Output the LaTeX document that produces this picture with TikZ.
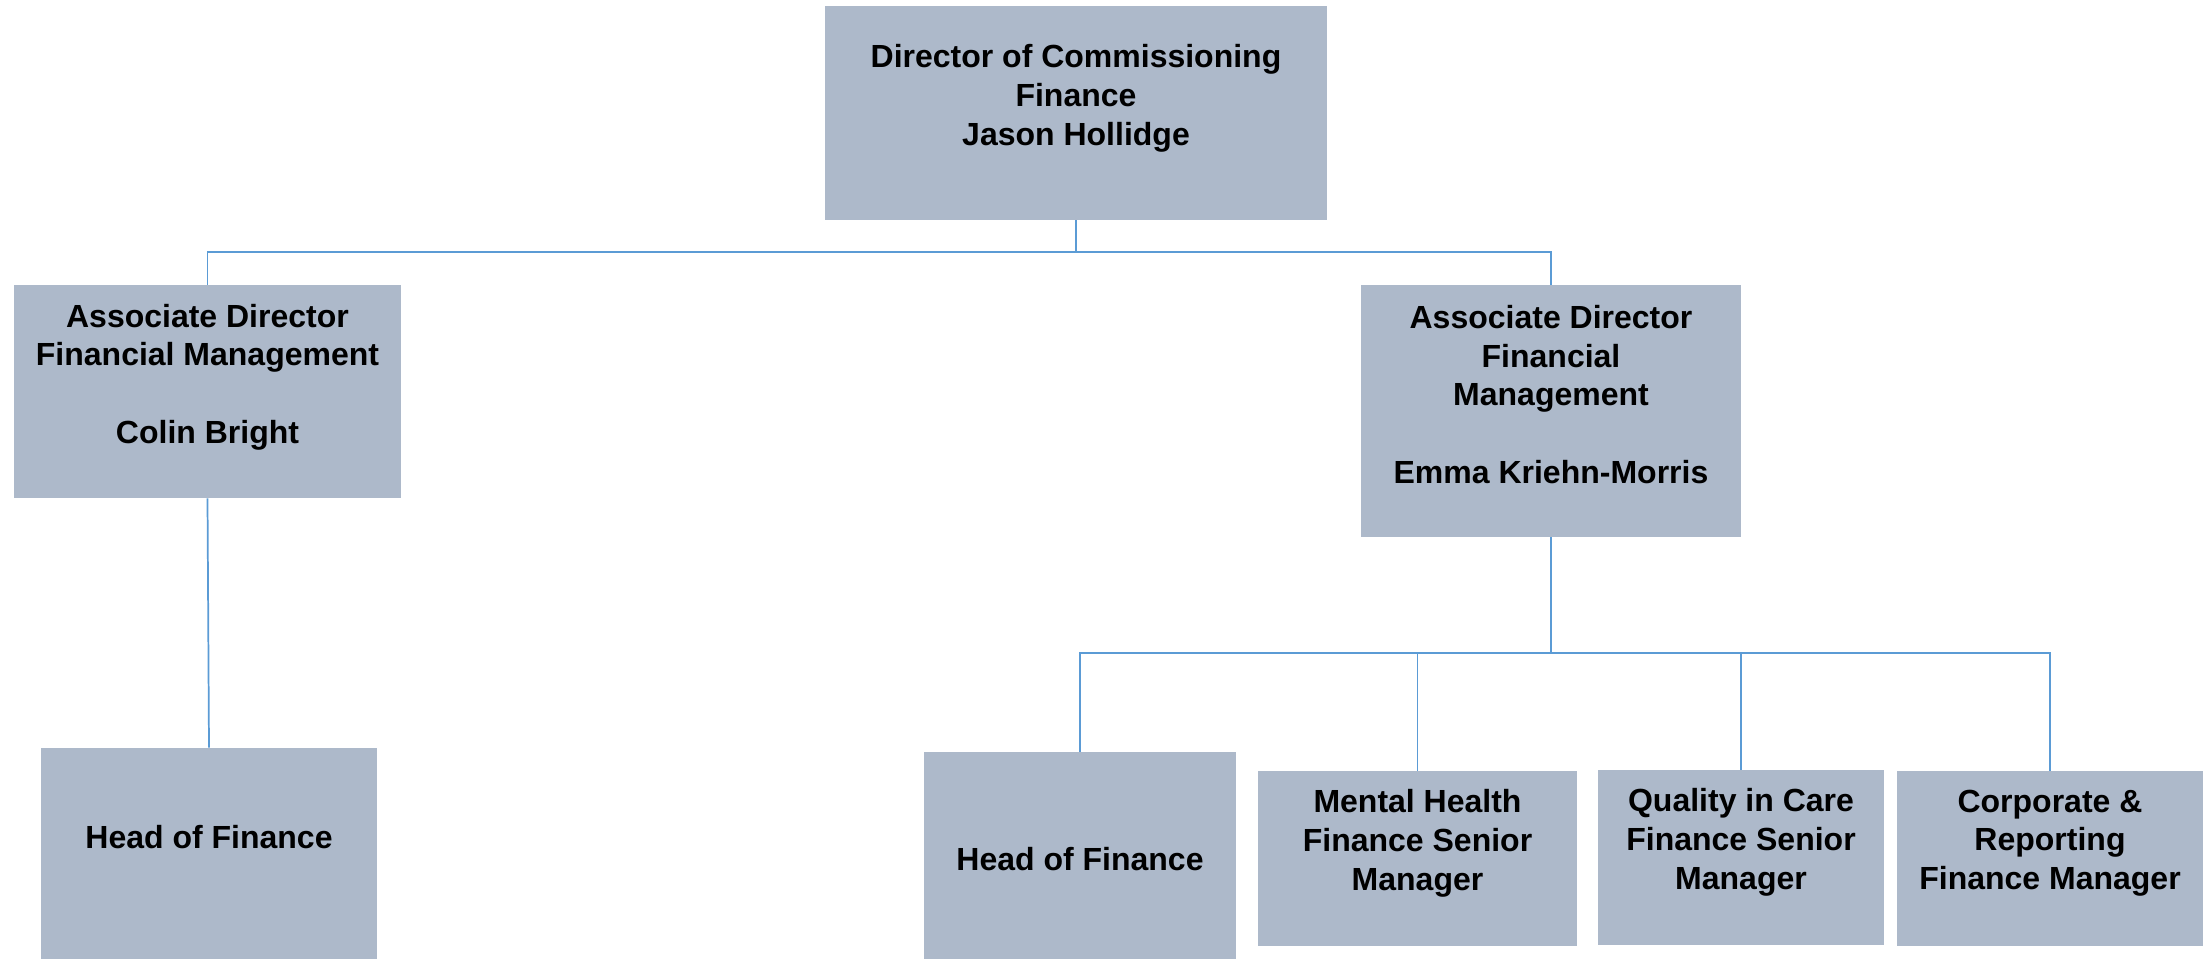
\documentclass[tikz,border=0pt]{standalone}
\usepackage{fontspec}
\setmainfont{Liberation Sans}
\definecolor{boxfill}{HTML}{ADB9CA}
\definecolor{linkblue}{HTML}{5B9BD5}
\begin{document}
\begin{tikzpicture}[x=0.75pt,y=-0.75pt,
  box/.style={rectangle, fill=boxfill, draw=none, inner sep=0pt},
  txt/.style={align=center, font=\fontsize{24}{29}\selectfont\bfseries, text=black, inner sep=0pt},
  link/.style={draw=linkblue, line width=1.3pt}]
\useasboundingbox (0,0) rectangle (2212,959);
% top
\node[box, minimum width=376.5pt, minimum height=160.5pt,
  label={[txt,yshift=11pt]center:{Director of Commissioning\\Finance\\Jason Hollidge}}] (top) at (1076,113) {};
% associate directors
\node[box, minimum width=290.25pt, minimum height=159.75pt,
  label={[txt,yshift=11pt]center:{Associate Director\\Financial Management\\[29pt]Colin Bright}}] (assocL) at (207.5,391.5) {};
\node[box, minimum width=285pt, minimum height=189pt,
  label={[txt,yshift=12.5pt]center:{Associate Director\\Financial\\Management\\[29pt]Emma Kriehn-Morris}}] (assocR) at (1551,411) {};
% bottom row
\node[box, minimum width=252pt, minimum height=159pt,
  label={[txt,yshift=12.75pt]center:{Head of Finance}}] (hofL) at (209,854) {};
\node[box, minimum width=234pt, minimum height=155.25pt,
  label={[txt,yshift=-2.6pt]center:{Head of Finance}}] (hofR) at (1080,855.5) {};
\node[box, minimum width=239.25pt, minimum height=131.25pt,
  label={[txt,yshift=11.5pt]center:{Mental Health\\Finance Senior\\Manager}}] (mh) at (1417.5,858.5) {};
\node[box, minimum width=214.5pt, minimum height=131.25pt,
  label={[txt,yshift=11.5pt]center:{Quality in Care\\Finance Senior\\Manager}}] (qic) at (1741,857.5) {};
\node[box, minimum width=229.5pt, minimum height=131.25pt,
  label={[txt,yshift=11.5pt]center:{Corporate \&\\Reporting\\Finance Manager}}] (corp) at (2050,858.5) {};
% connectors
\draw[link] (top.south) -- ++(0,32) -| (assocL.north);
\draw[link] (top.south) -- ++(0,32) -| (assocR.north);
\draw[link] (assocL.south) -- (hofL.north);
\draw[link] (assocR.south) -- ++(0,116) -| (hofR.north);
\draw[link] (assocR.south) -- ++(0,116) -| (mh.north);
\draw[link] (assocR.south) -- ++(0,116) -| (qic.north);
\draw[link] (assocR.south) -- ++(0,116) -| (corp.north);
\end{tikzpicture}
\end{document}
